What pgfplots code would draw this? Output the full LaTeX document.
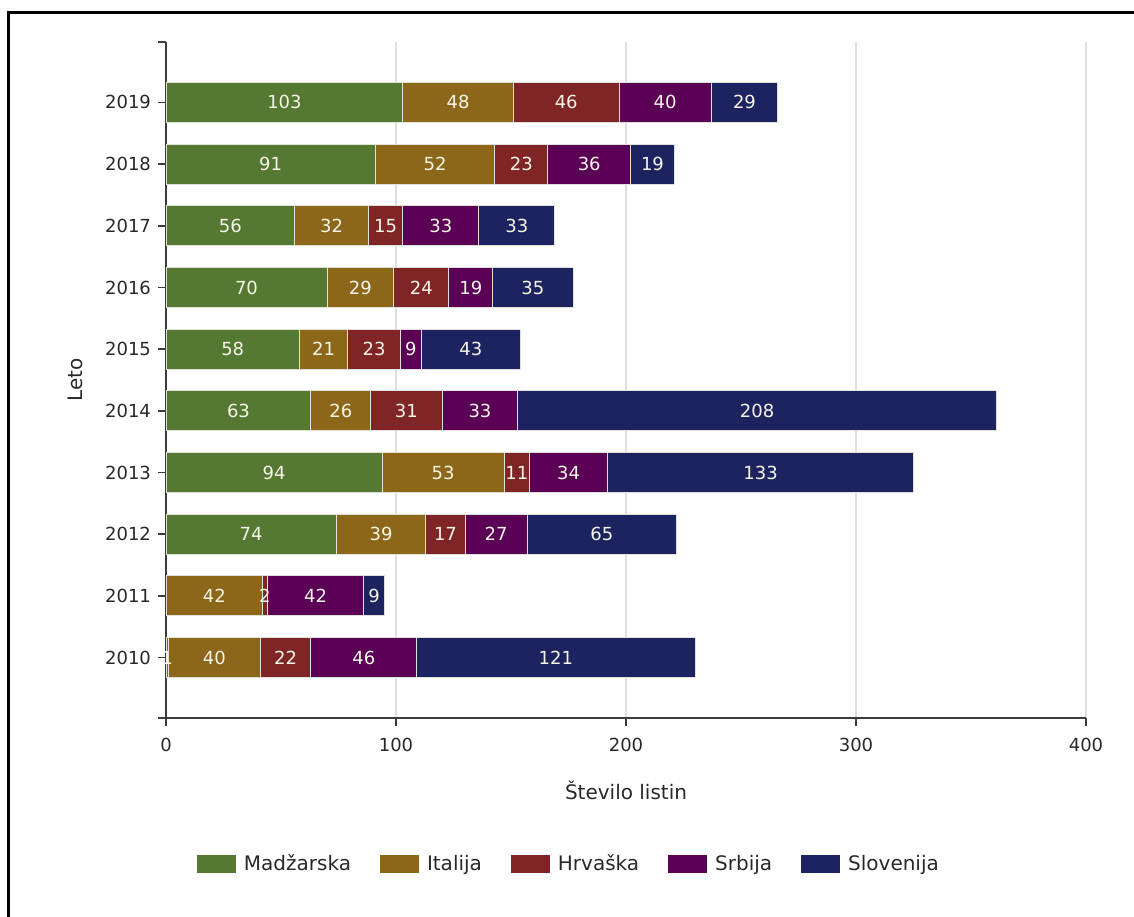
\documentclass[border=0pt]{standalone}
\usepackage{pgfplots}
\pgfplotsset{compat=1.18}
\usepackage{pgfplotstable}
\usepackage{fontspec}
\setmainfont{DejaVu Sans}
\definecolor{cMad}{RGB}{85,120,50}
\definecolor{cIta}{RGB}{140,102,25}
\definecolor{cHrv}{RGB}{127,37,37}
\definecolor{cSrb}{RGB}{90,0,85}
\definecolor{cSlo}{RGB}{28,35,95}
\definecolor{axisgray}{RGB}{60,60,60}
\definecolor{txt}{RGB}{40,40,40}
\definecolor{lbl}{RGB}{245,245,232}
\definecolor{edge}{RGB}{225,225,220}

\pgfplotstableread{
pos year mad ita hrv srb slo
0 2010 1 40 22 46 121
1 2011 0 42 2 42 9
2 2012 74 39 17 27 65
3 2013 94 53 11 34 133
4 2014 63 26 31 33 208
5 2015 58 21 23 9 43
6 2016 70 29 24 19 35
7 2017 56 32 15 33 33
8 2018 91 52 23 36 19
9 2019 103 48 46 40 29
}\datatable

\begin{document}
\begin{tikzpicture}[x=1pt,y=1pt]
\path[use as bounding box] (0,0) rectangle (567,458);
\draw[line width=1.5pt] (4.25,-2) -- (4.25,451.75) -- (570,451.75);
\begin{axis}[
  at={(83pt,99pt)}, anchor=south west,
  scale only axis, width=460pt, height=338pt,
  xbar stacked, bar width=20pt,
  xmin=0, xmax=400, ymin=-0.98, ymax=9.98,
  xtick={0,100,200,300,400},
  ytick={0,1,2,3,4,5,6,7,8,9},
  yticklabels={2010,2011,2012,2013,2014,2015,2016,2017,2018,2019},
  extra y ticks={-0.98,9.98}, extra y tick labels={},
  extra y tick style={grid=none},
  axis lines=left, axis line style={-, axisgray, line width=0.75pt},
  tick align=outside, major tick length=4pt,
  tick style={axisgray, line width=0.75pt},
  xmajorgrids, ymajorgrids=false,
  grid style={gray!25, line width=0.75pt},
  ticklabel style={font=\fontsize{9}{11}\selectfont, text=txt},
  xticklabel style={yshift=-2.5pt},
  /pgf/number format/assume math mode=true,
  xlabel={Število listin}, ylabel={Leto},
  label style={font=\fontsize{10}{12}\selectfont, text=txt},
  xlabel style={at={(axis description cs:0.5,-0.1065)}, anchor=center},
  ylabel style={at={(axis description cs:-0.099,0.5)}, anchor=center},
  point meta=explicit,
  nodes near coords={\pgfmathfloatifflags{\pgfplotspointmeta}{0}{}{\pgfmathprintnumber{\pgfplotspointmeta}}},
  every node near coord/.append style={anchor=center, font=\fontsize{9}{11}\selectfont, text=lbl},
  legend columns=5,
  legend style={at={(0.439,-0.216)}, anchor=center, draw=none, fill=none,
    font=\fontsize{10}{12}\selectfont, text=txt,
    /tikz/every odd column/.append style={column sep=2pt},
    /tikz/every even column/.append style={column sep=12.5pt}},
  legend image code/.code={\path[#1, draw=none] (0pt,-4.5pt) rectangle (19.5pt,4.5pt);},
  clip=false,
]
\addplot[fill=cMad, draw=edge, line width=0.5pt] table[x=mad, y=pos, meta=mad] {\datatable};
\addplot[fill=cIta, draw=edge, line width=0.5pt] table[x=ita, y=pos, meta=ita] {\datatable};
\addplot[fill=cHrv, draw=edge, line width=0.5pt] table[x=hrv, y=pos, meta=hrv] {\datatable};
\addplot[fill=cSrb, draw=edge, line width=0.5pt] table[x=srb, y=pos, meta=srb] {\datatable};
\addplot[fill=cSlo, draw=edge, line width=0.5pt] table[x=slo, y=pos, meta=slo] {\datatable};
\legend{Madžarska, Italija, Hrvaška, Srbija, Slovenija}
\end{axis}
\end{tikzpicture}
\end{document}
